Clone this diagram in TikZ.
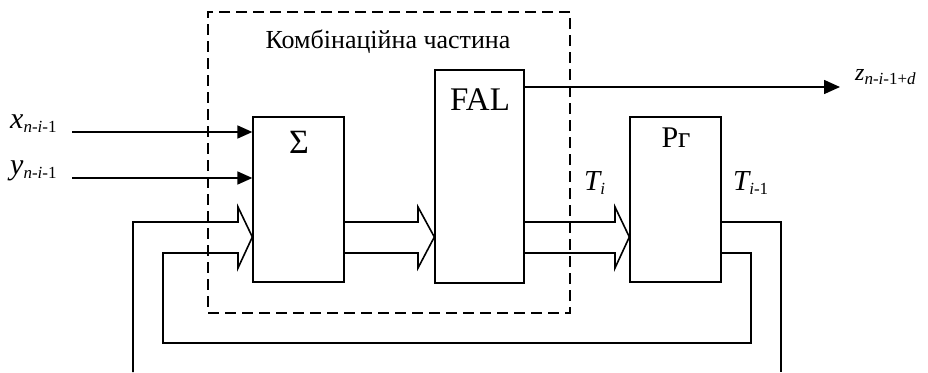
\documentclass[tikz,border=0pt]{standalone}
\usepackage{fontspec}
\setmainfont{Liberation Serif}
\usetikzlibrary{arrows.meta}
\newcommand{\subtxt}[1]{\raisebox{-4pt}{\fontsize{17}{17}\selectfont #1}}
\begin{document}
\begin{tikzpicture}[x=1pt,y=-1pt,
  box/.style={draw,line width=1.3pt,inner sep=0pt},
  wire/.style={line width=1.6pt},
  dbox/.style={draw,line width=1.4pt,dash pattern=on 11pt off 6pt,inner sep=0pt},
  sarrow/.style={wire,-{Triangle[length=15pt,width=13pt]}},
  lbl/.style={inner sep=0pt,anchor=base west}]
\useasboundingbox (0,0) rectangle (928,372);
% blocks
\node[dbox,minimum width=362pt,minimum height=301pt] (comb) at (389,162.5) {};
\node[box,minimum width=91pt,minimum height=165pt] (sum) at (298.5,199.5) {};
\node[box,minimum width=89pt,minimum height=213pt] (fal) at (479.5,176.5) {};
\node[box,minimum width=91pt,minimum height=165pt] (rg) at (675.5,199.5) {};
% block titles
\node[inner sep=0pt,anchor=base] (combt) at (388,48) {\fontsize{26}{26}\selectfont Комбінаційна частина};
\node[inner sep=0pt] (sumt) at (299,142) {\fontsize{34}{34}\selectfont Σ};
\node[inner sep=0pt,anchor=base] (falt) at (480,110) {\fontsize{33}{33}\selectfont FAL};
\node[inner sep=0pt,anchor=base] (rgt) at (676,147) {\fontsize{30}{30}\selectfont Рг};
% inputs
\coordinate (xs) at (72,132);
\coordinate (ys) at (72,178);
\draw[sarrow] (xs) -- (sum.west |- xs);
\draw[sarrow] (ys) -- (sum.west |- ys);
\node[lbl] (xl) at (10,128) {\fontsize{30}{30}\selectfont\itshape x\subtxt{n\upshape -\itshape i\upshape -1}};
\node[lbl] (yl) at (10,174) {\fontsize{30}{30}\selectfont\itshape y\subtxt{n\upshape -\itshape i\upshape -1}};
% output z
\coordinate (zend) at (840,87);
\draw[wire,-{Triangle[length=16pt,width=14pt]}] (fal.east |- zend) -- (zend);
\node[lbl] (zl) at (855,80) {\fontsize{24}{24}\selectfont\itshape z\subtxt{n\upshape -\itshape i\upshape -1+\itshape d}};
% sum -> fal (double bus arrow)
\draw[wire] (sum.east |- 0,222) -- (418,222) -- (418,207) -- (fal.west |- 0,237)
  -- (418,268) -- (418,253) -- (sum.east |- 0,253);
% fal -> rg (double bus arrow)
\draw[wire] (fal.east |- 0,222) -- (615,222) -- (615,207) -- (rg.west |- 0,237)
  -- (615,268) -- (615,253) -- (fal.east |- 0,253);
% feedback loops
\coordinate (outB) at (781,372);
\coordinate (outA) at (133,372);
\draw[wire] (rg.east |- 0,222) -| (outB);
\draw[wire] (rg.east |- 0,253) -| (751,343) -| (163,253) -- (238,253) -- (238,268)
  -- (sum.west |- 0,237) -- (238,207) -- (238,222) -| (outA);
% bus labels
\node[lbl] (ti) at (584,190) {\fontsize{29}{29}\selectfont\itshape T\subtxt{i}};
\node[lbl] (ti1) at (733,190) {\fontsize{29}{29}\selectfont\itshape T\subtxt{i\upshape -1}};
\end{tikzpicture}
\end{document}
